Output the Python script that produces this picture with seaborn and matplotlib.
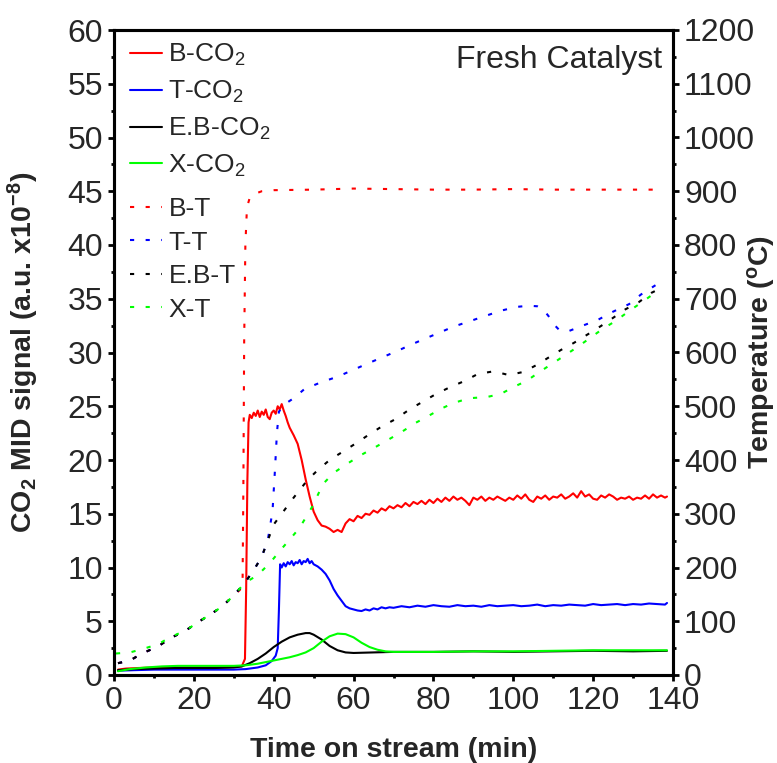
import numpy as np
import pandas as pd
import matplotlib
matplotlib.use("Agg")
import matplotlib.pyplot as plt
from matplotlib.ticker import MultipleLocator
import seaborn as sns

sns.set_style("ticks")
plt.rcParams["font.family"] = ["Liberation Sans", "DejaVu Sans"]
plt.rcParams["mathtext.fontset"] = "custom"
plt.rcParams["mathtext.rm"] = "Liberation Sans"
plt.rcParams["mathtext.it"] = "Liberation Sans:italic"
plt.rcParams["mathtext.bf"] = "Liberation Sans:bold"

# ---------------- CO2 MID signal (a.u. x1e-8) ----------------
t_b_co2 = [1, 3, 6, 10, 14, 18, 22, 26, 30, 32, 32.8, 33.1, 33.4, 33.7, 34, 34.5, 35, 35.5, 36,
           36.5, 37, 37.5, 38, 38.5, 39, 39.5, 40, 40.5, 41, 41.5, 42, 42.5, 43, 43.5, 44, 45,
           46, 47, 48, 49, 50, 51, 52, 53, 54, 55, 56, 57] + list(range(58, 139)) + [138.5]
b_co2 = [0.5, 0.6, 0.65, 0.7, 0.7, 0.7, 0.7, 0.7, 0.75, 0.8, 1.5, 8.0, 18.0, 23.5, 24.2, 23.9,
         24.4, 24.1, 24.6, 24.0, 24.5, 24.2, 24.7, 24.0, 23.8, 24.4, 24.6, 24.3, 25.0, 24.7,
         25.2, 24.6, 24.1, 23.5, 23.0, 22.3, 21.5, 20.0, 18.2, 16.6, 15.2, 14.4, 13.9, 13.8,
         13.6, 13.3, 13.5, 13.3,
         14.1, 14.5, 14.3, 14.8, 14.6, 15.0, 14.9, 15.3, 15.1, 15.5, 15.3, 15.7, 15.5, 15.8,
         15.6, 16.0, 15.7, 16.1, 15.9, 16.2, 15.9, 16.3, 16.0, 16.4, 16.1, 16.5, 16.2, 16.6,
         16.3, 16.5, 16.2, 15.8, 16.5, 16.3, 16.6, 16.2, 16.5, 16.3, 16.6, 16.4, 16.2, 16.5,
         16.3, 16.7, 16.4, 16.8, 16.3, 16.1, 16.6, 16.4, 16.7, 16.3, 16.6, 16.5, 16.8, 16.4,
         16.6, 16.9, 16.5, 17.1, 16.6, 16.8, 16.4, 16.3, 16.7, 16.5, 16.8, 16.6, 16.3, 16.5,
         16.4, 16.6, 16.3, 16.5, 16.4, 16.7, 16.4, 16.8, 16.5, 16.7, 16.5, 16.6]

t_t_co2 = [1, 5, 10, 15, 20, 25, 30, 33, 36, 38, 39.5, 40.5, 41, 41.3, 41.6, 42, 42.5, 43, 43.5,
           44, 44.5, 45, 45.5, 46, 46.5, 47, 47.5, 48, 48.5, 49, 49.5, 50, 51, 52, 53, 54, 55,
           56, 57, 58, 59, 60, 61, 62, 63, 64, 65, 66, 67, 68, 69, 70] + list(range(72, 139, 2)) + [138.5]
t_co2 = [0.4, 0.45, 0.5, 0.5, 0.5, 0.5, 0.5, 0.55, 0.7, 0.9, 1.3, 1.8, 2.5, 6.0, 10.3, 10.0,
         10.4, 10.1, 10.5, 10.3, 10.6, 10.2, 10.5, 10.4, 10.7, 10.3, 10.6, 10.5, 10.8, 10.4,
         10.6, 10.3, 10.1, 9.8, 9.4, 8.8, 8.0, 7.4, 6.9, 6.4, 6.2, 6.1, 6.0, 5.95, 6.1, 6.0,
         6.2, 6.1, 6.3, 6.2, 6.3, 6.25,
         6.4, 6.3, 6.45, 6.35, 6.5, 6.4, 6.35, 6.5, 6.4, 6.45, 6.35, 6.5, 6.4, 6.45, 6.5, 6.4,
         6.45, 6.55, 6.4, 6.5, 6.45, 6.55, 6.5, 6.45, 6.6, 6.5, 6.55, 6.6, 6.5, 6.6, 6.55, 6.65,
         6.6, 6.55, 6.7]

t_eb_co2 = [1, 5, 10, 15, 20, 25, 30, 32, 34, 36, 38, 40, 42, 44, 46, 48, 49, 50, 52, 54, 56,
            58, 60, 65, 70, 80, 90, 100, 110, 120, 130, 138.5]
eb_co2 = [0.45, 0.55, 0.6, 0.65, 0.65, 0.65, 0.7, 0.8, 1.1, 1.5, 2.0, 2.6, 3.1, 3.5, 3.75, 3.9,
          3.9, 3.75, 3.3, 2.7, 2.3, 2.1, 2.05, 2.1, 2.15, 2.15, 2.2, 2.15, 2.2, 2.25, 2.2, 2.25]

t_x_co2 = [1, 4, 8, 12, 16, 20, 25, 30, 33, 36, 38, 40, 42, 44, 46, 48, 50, 52, 54, 56, 58, 60,
           62, 64, 66, 68, 70, 80, 90, 100, 110, 120, 130, 138.5]
x_co2 = [0.35, 0.55, 0.7, 0.8, 0.85, 0.85, 0.85, 0.85, 0.9, 1.05, 1.2, 1.35, 1.5, 1.65, 1.85,
         2.1, 2.5, 3.1, 3.6, 3.85, 3.8, 3.5, 3.0, 2.6, 2.35, 2.2, 2.15, 2.15, 2.2, 2.2, 2.25,
         2.3, 2.3, 2.3]

# ---------------- Temperature (degC) ----------------
t_b_t = [1, 4, 7, 11, 14, 18, 21, 24, 27, 30, 31.5, 32.2, 32.4, 32.6, 32.9, 33.3, 34, 35.2, 37,
         40, 50, 60, 70, 80, 90, 100, 110, 120, 130, 137]
b_t = [22, 27, 40, 53, 68, 83, 98, 112, 127, 148, 158, 170, 350, 620, 800, 870, 888, 895, 900,
       902, 903, 905, 904, 903, 903, 904, 903, 903, 903, 903]

t_t_t = [1, 4, 7, 11, 14, 18, 21, 24, 27, 30, 32.7, 35, 37, 38.5, 39.7, 40.3, 40.8, 41.3, 43, 45,
         47.7, 52, 56, 60, 64, 67.5, 71, 74.5, 78.3, 81.5, 85, 89, 93, 97, 101, 104, 106, 107.5,
         108.8, 110.2, 111.5, 113.6, 117.4, 121, 125, 129, 132, 136]
t_t = [22, 27, 40, 53, 68, 83, 98, 112, 127, 148, 171, 195, 220, 250, 305, 380, 450, 490, 505,
       515, 532, 545, 555, 568, 581, 592, 603, 615, 627, 637, 648, 658, 668, 678, 685, 687, 686,
       680, 668, 652, 642, 639, 650, 660, 676, 690, 708, 727]

t_eb_t = [1, 4, 7, 11, 14, 18, 21, 24, 27, 30, 32.7, 35, 37, 38.5, 40, 42, 45, 48.5, 51, 54,
          57.2, 60.8, 64, 67.2, 70.5, 73.8, 77.2, 80.7, 84.3, 87.8, 91.1, 95.1, 98.9, 102.6,
          105.9, 108.7, 112, 115.2, 118.7, 121.9, 124.9, 128, 131.5, 134.6, 136.5]
eb_t = [22, 27, 40, 53, 68, 83, 98, 112, 127, 148, 171, 195, 220, 250, 280, 300, 330, 363, 381,
        400, 415, 432, 448, 463, 476, 493, 508, 523, 536, 547, 560, 565, 558, 564, 577, 590, 605,
        618, 634, 649, 664, 680, 694, 711, 718]

t_x_t = [0.5, 4, 7, 11, 14, 18, 21, 24, 27, 30, 32.7, 36, 39, 42, 44, 46.5, 49.8, 52.3, 55,
         58.2, 61.8, 65, 68.5, 72, 75.5, 78.3, 81.8, 85, 89, 93.3, 96.9, 100.1, 103.3, 106.6,
         109.9, 113, 116.4, 119.6, 122.4, 125.7, 128.6, 132.1, 135.5, 136.5]
x_t = [40, 42, 48, 57, 70, 83, 98, 112, 127, 148, 171, 186, 208, 235, 252, 274, 315, 355, 376,
       392, 409, 422, 437, 452, 469, 480, 495, 506, 515, 517, 523, 536, 547, 564, 580, 595, 612,
       629, 644, 659, 675, 693, 711, 714]

co2_series = [
    ("B-CO$_2$", t_b_co2, b_co2, "#ff0000"),
    ("T-CO$_2$", t_t_co2, t_co2, "#0000ff"),
    ("E.B-CO$_2$", t_eb_co2, eb_co2, "#000000"),
    ("X-CO$_2$", t_x_co2, x_co2, "#00ff00"),
]
temp_series = [
    ("B-T", t_b_t, b_t, "#ff0000"),
    ("T-T", t_t_t, t_t, "#0000ff"),
    ("E.B-T", t_eb_t, eb_t, "#000000"),
    ("X-T", t_x_t, x_t, "#00ff00"),
]

W, H = 777, 763
fig = plt.figure(figsize=(W / 100, H / 100), dpi=100)
L, R, T, B = 114, 673, 30, 675
ax = fig.add_axes([L / W, 1 - B / H, (R - L) / W, (B - T) / H])
ax2 = ax.twinx()

dotted = (0, (2.0, 5.5))
for name, tx, vy, col in co2_series:
    sns.lineplot(x=tx, y=vy, ax=ax, color=col, linewidth=1.5, label=name,
                 estimator=None, sort=False)
for name, tx, vy, col in temp_series:
    sns.lineplot(x=tx, y=vy, ax=ax2, color=col, linewidth=1.5, linestyle=dotted,
                 label=name, estimator=None, sort=False)

for a in (ax, ax2):
    if a.get_legend() is not None:
        a.get_legend().remove()

ax.set_xlim(0, 140)
ax.set_ylim(0, 60)
ax2.set_ylim(0, 1200)

ax.xaxis.set_major_locator(MultipleLocator(20))
ax.xaxis.set_minor_locator(MultipleLocator(10))
ax.yaxis.set_major_locator(MultipleLocator(5))
ax.yaxis.set_minor_locator(MultipleLocator(2.5))
ax2.yaxis.set_major_locator(MultipleLocator(100))
ax2.yaxis.set_minor_locator(MultipleLocator(50))

tick_fs = 23
for a in (ax, ax2):
    for s in a.spines.values():
        s.set_linewidth(2.2)
        s.set_color("black")
    a.tick_params(which="major", direction="out", length=4.5, width=2.0,
                  labelsize=tick_fs, pad=3.5, color="black")
    a.tick_params(which="minor", direction="out", length=2.5, width=2.0, color="black")
ax.tick_params(axis="x", which="both", top=False)
ax2.tick_params(axis="y", which="both", left=False, right=True)
ax.tick_params(axis="y", which="both", right=False)

lab_fs = 20.5
ax.set_xlabel("Time on stream (min)", fontsize=lab_fs, fontweight="bold")
ax.set_ylabel(r"CO$_\mathbf{2}$ MID signal (a.u. x10$^\mathbf{-8}$)",
              fontsize=lab_fs, fontweight="bold")
ax2.set_ylabel(r"Temperature ($^\mathbf{o}$C)", fontsize=lab_fs, fontweight="bold")
ax.xaxis.set_label_coords(0.5, -0.096)
ax.yaxis.set_label_coords(-0.130, 0.5)
ax2.yaxis.set_label_coords(1.128, 0.5)

ax.text(0.98, 0.941, "Fresh Catalyst", transform=ax.transAxes, ha="right",
        va="baseline", fontsize=23)

h1, l1 = ax.get_legend_handles_labels()
h2, l2 = ax2.get_legend_handles_labels()
leg_kw = dict(loc="upper left", frameon=False, fontsize=19, handlelength=1.2,
              handletextpad=0.25, borderpad=0, borderaxespad=0)
leg1 = ax2.legend(h1, l1, bbox_to_anchor=(0.029, 0.981), labelspacing=0.4, **leg_kw)
ax2.add_artist(leg1)
ax2.legend(h2, l2, bbox_to_anchor=(0.029, 0.741), labelspacing=0.36, **leg_kw)

fig.savefig("out.png", dpi=100)
